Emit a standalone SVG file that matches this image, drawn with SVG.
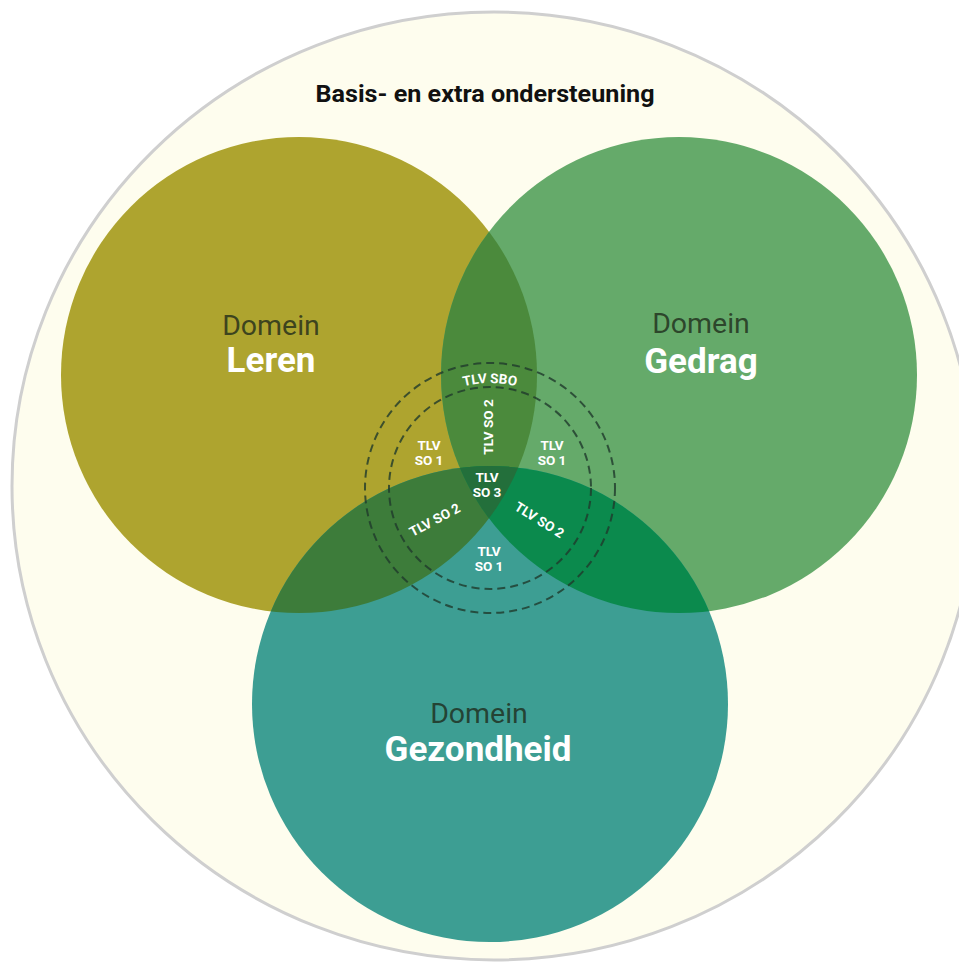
<svg xmlns="http://www.w3.org/2000/svg" width="959" height="967" viewBox="0 0 959 967">
<style>
.dom{font-family:Roboto,"Liberation Sans",sans-serif;font-size:28.5px;fill:#1e2a1a;fill-opacity:0.8;text-anchor:middle}
.name{font-family:Roboto,"Liberation Sans",sans-serif;font-size:35px;font-weight:bold;fill:#ffffff;text-anchor:middle}
.tlv{font-family:Roboto,"Liberation Sans",sans-serif;font-size:13.5px;font-weight:bold;fill:#ffffff;text-anchor:middle}
.dash{fill:none;stroke:#1f3a2c;stroke-opacity:0.8;stroke-width:2;stroke-dasharray:8 5}
</style>
<defs>
<clipPath id="cL"><circle cx="299" cy="375" r="238"/></clipPath>
<clipPath id="cG"><circle cx="679" cy="375" r="238"/></clipPath>
<path id="arcTop" d="M385,488 A105,105 0 0 1 595,488"/>
</defs>
<rect width="959" height="967" fill="#ffffff"/>
<g id="outer">
<ellipse cx="494" cy="486" rx="482" ry="474" fill="#fefdee" stroke="#cfcfcf" stroke-width="3"/>
<text x="485" y="102" textLength="339" lengthAdjust="spacingAndGlyphs" style="font-family:Roboto,'Liberation Sans',sans-serif;font-size:23px;font-weight:bold;fill:#111111;text-anchor:middle">Basis- en extra ondersteuning</text>
</g>
<g id="leren"><circle cx="299" cy="375" r="238" fill="#aea42f"/></g>
<g id="gedrag"><circle cx="679" cy="375" r="238" fill="#65aa6a"/></g>
<g id="gezondheid"><circle cx="490" cy="704" r="238" fill="#3d9e93"/></g>
<g id="overlaps">
<circle cx="679" cy="375" r="238" fill="#4b8a3c" clip-path="url(#cL)"/>
<circle cx="490" cy="704" r="238" fill="#3d7c3a" clip-path="url(#cL)"/>
<circle cx="490" cy="704" r="238" fill="#0b8a4d" clip-path="url(#cG)"/>
<g clip-path="url(#cL)"><circle cx="490" cy="704" r="238" fill="#236f3b" clip-path="url(#cG)"/></g>
</g>
<g id="rings">
<circle class="dash" cx="490" cy="488" r="125"/>
<circle class="dash" cx="490" cy="488" r="101"/>
</g>
<g id="labels">
<text class="dom" x="271" y="335">Domein</text>
<text class="name" x="271" y="372">Leren</text>
<text class="dom" x="701" y="333">Domein</text>
<text class="name" x="701" y="373">Gedrag</text>
<text class="dom" x="479" y="723">Domein</text>
<text class="name" x="478" y="761">Gezondheid</text>
</g>
<g id="tlv">
<text class="tlv"><textPath href="#arcTop" startOffset="50%">TLV SBO</textPath></text>
<text class="tlv" transform="translate(493,427) rotate(-90)">TLV SO 2</text>
<text class="tlv" x="429" y="450">TLV</text>
<text class="tlv" x="429" y="465">SO 1</text>
<text class="tlv" x="552" y="450">TLV</text>
<text class="tlv" x="552" y="465">SO 1</text>
<text class="tlv" x="487" y="482">TLV</text>
<text class="tlv" x="487" y="497">SO 3</text>
<text class="tlv" transform="translate(437,524) rotate(-28)">TLV SO 2</text>
<text class="tlv" transform="translate(537,524) rotate(32)">TLV SO 2</text>
<text class="tlv" x="489" y="556">TLV</text>
<text class="tlv" x="489" y="571">SO 1</text>
</g>
</svg>
